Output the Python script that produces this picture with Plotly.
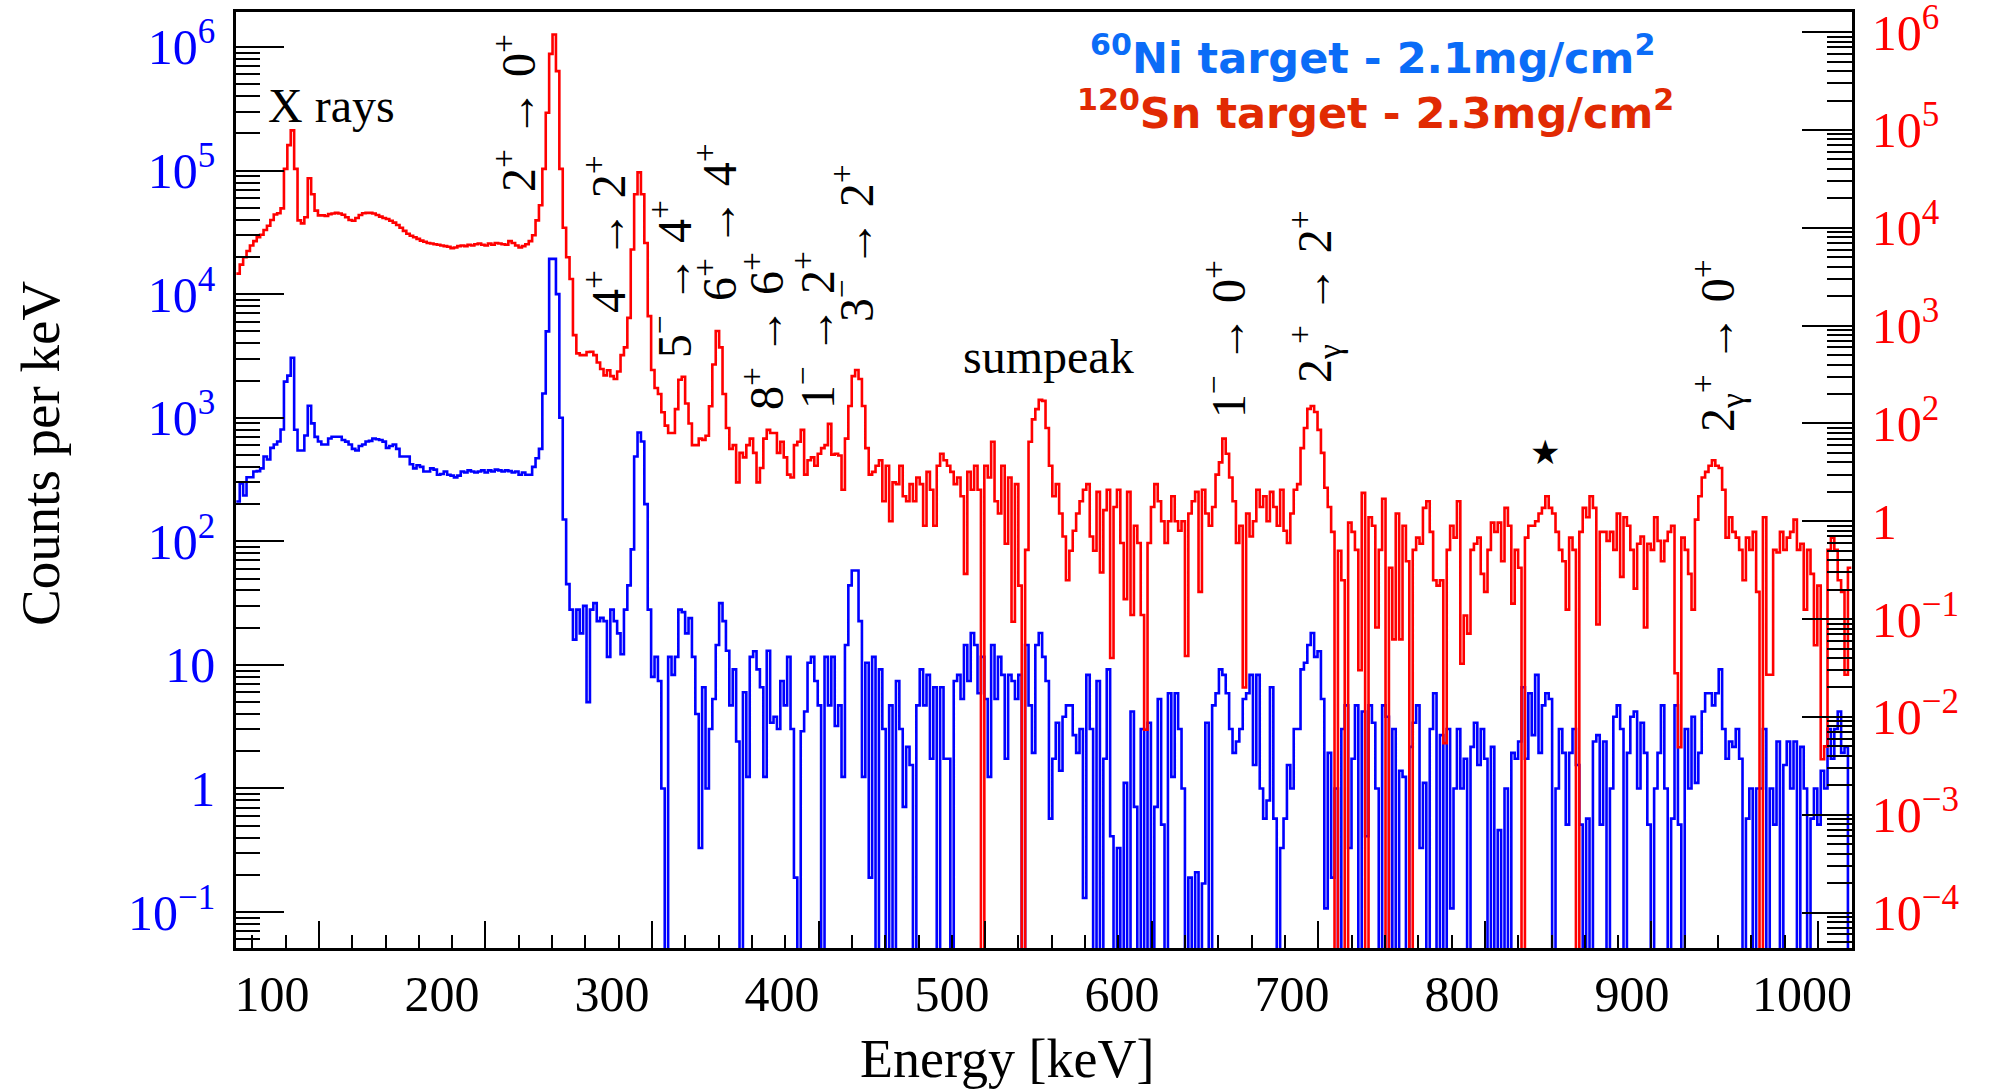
import numpy as np
import plotly.graph_objects as go

# ---------------- data (2 keV bins, first bin starts at 79 keV) ----------------
BIN_START_KEV = 79
BIN_WIDTH_KEV = 2

# 60Ni target spectrum (blue, left axis), counts per keV
ni60_080_238 = [210, 294, 235, 330, 330, 367, 370, 389, 486, 459,
                570, 607, 642, 802, 1960, 2190, 3060, 800, 543, 543,
                718, 1250, 900, 700, 642, 607, 607, 678, 702, 702,
                702, 660, 640, 607, 560, 543, 590, 607, 642, 650,
                678, 670, 660, 640, 570, 590, 607, 560, 486, 486,
                486, 420, 389, 412, 400, 367, 367, 389, 380, 346,
                350, 367, 346, 340, 329, 340, 367, 360, 375, 367,
                360, 367, 375, 360, 375, 367, 380, 375, 367, 375]
ni60_240_394 = [370, 360, 367, 346, 360, 346, 346, 400, 470, 560,
                1570, 5000, 19300, 19300, 10000, 1000, 150, 45, 28, 16,
                28, 18, 30, 5, 28, 31.6, 22.6, 24, 22.6, 11.6,
                28, 22.6, 18, 12.2, 28, 44, 86, 486, 759, 642,
                200, 28, 8, 11.6, 7.4, 1.0, 0, 11.6, 8.3, 11.6,
                28, 26.7, 18, 23.9, 11.6, 4, 0.33, 6.6, 1.0, 3.03,
                5.3, 14.5, 31.6, 22.6, 13, 4.7, 9.2, 2.4, 0, 6,
                1.24, 11.6, 12.9, 9.2, 6.6, 1.24, 13, 3.4]
ni60_396_548 = [3.8, 3.03, 7.4, 4.7, 11.6, 3.03, 0.19, 0, 2.9, 4.2,
                10.4, 11.6, 7.4, 4.7, 0, 11.6, 4.7, 11.6, 3.2, 4.7,
                1.24, 14.5, 44, 58, 58, 22.6, 1.24, 10.4, 0.19, 11.6,
                0, 9.2, 3.03, 0, 4.7, 0, 7.4, 3.03, 0.71, 2.17,
                1.55, 0, 4.7, 9.2, 4.7, 8.3, 1.74, 6.6, 0, 6.6,
                1.74, 1.74, 0, 7.4, 8.3, 5.3, 14.5, 7.4, 18.1, 14.5,
                5.9, 11.6, 5.3, 1.24, 14.5, 5.3, 11.6, 8.3, 1.74, 8.3,
                7.4, 5.3, 8.3, 0, 14.5, 4.7, 1.94]
ni60_550_704 = [14.5, 18.1, 11.6, 7.4, 0.57, 1.74, 3.4, 1.39, 3.8, 4.7,
                4.7, 2.7, 1.94, 3.03, 0.13, 8.3, 3.03, 0, 7.4, 0,
                1.74, 9.2, 0.41, 0, 0.33, 0, 1.11, 0, 4.2, 0.71,
                0, 3.03, 0, 3.4, 0, 0.71, 5.3, 0.51, 0, 5.9,
                1.24, 5.9, 3.03, 1.0, 0, 0.19, 0, 0.21, 0, 0.17,
                3.4, 0, 4.7, 5.9, 9.2, 8.3, 5.9, 3.03, 1.94, 2.4,
                3.03, 5.3, 5.9, 8.3, 1.55, 8.3, 1.0, 0.57, 0.8, 6.6,
                0.57, 0, 0.33, 0.57, 1.55, 1.0, 3.03, 3.03]
ni60_706_860 = [9.2, 10.4, 14.5, 18.1, 11.6, 12.9, 5.3, 0.107, 1.94, 0.19,
                1.0, 0, 3.03, 4.7, 0.33, 1.74, 4.7, 0, 4.2, 0.41,
                4.7, 3.4, 1.0, 0, 4.7, 3.8, 0, 3.03, 0, 1.39,
                1.24, 0, 2.17, 3.4, 4.7, 0.33, 1.11, 0, 3.03, 5.9,
                0, 2.7, 0, 3.03, 0.107, 1.0, 3.03, 1.0, 1.74, 0,
                2.17, 3.4, 1.55, 3.03, 1.74, 0, 2.17, 0, 0.46, 0,
                1.0, 0, 1.94, 1.74, 2.4, 6.6, 1.74, 5.9, 2.7, 8.3,
                1.94, 4.7, 5.9, 5.3, 0, 1.0, 3.03, 1.94]
ni60_862_1028 = [0.51, 1.94, 3.03, 1.55, 0.51, 0, 0.57, 0, 2.4, 2.7,
                 0.51, 2.4, 0, 1.0, 3.8, 4.7, 3.03, 0, 1.94, 3.8,
                 4.2, 1.0, 3.4, 1.94, 0.51, 0, 1.0, 1.94, 4.7, 1.0,
                 0, 0.57, 4.7, 0.51, 0, 3.03, 1.0, 3.8, 1.11, 1.94,
                 4.2, 5.9, 5.9, 4.7, 5.9, 9.2, 3.03, 1.74, 2.4, 2.17,
                 3.03, 1.74, 0, 0.57, 1.0, 0, 1.0, 1.0, 3.03, 0,
                 1.0, 0.51, 2.4, 0, 1.55, 2.4, 1.0, 2.4, 0, 2.17,
                 1.0, 0, 0.57, 1.0, 0.51, 1.39, 1.0, 3.03, 1.74, 3.03,
                 4.2, 1.94, 2.17, 0]

# 120Sn target spectrum (red, right axis), counts per keV
sn120_080_238 = [3400, 4200, 5000, 5800, 6600, 7300, 8000, 8500, 9500, 10500,
                 12000, 13700, 14100, 15800, 40000, 70000, 99000, 40000, 11900, 11100,
                 12800, 32100, 22000, 15000, 13400, 13400, 13200, 13800, 14000, 14200,
                 14000, 13600, 12800, 12000, 11800, 12600, 13500, 14100, 14200, 14200,
                 14000, 13500, 13000, 12600, 12300, 11800, 11300, 10700, 10000, 9300,
                 8700, 8300, 8000, 7700, 7400, 7200, 7000, 6900, 6800, 6700,
                 6600, 6500, 6400, 6200, 6300, 6500, 6600, 6500, 6700, 6600,
                 6800, 6900, 6700, 6600, 6900, 6700, 7000, 6900, 6800, 6700]
sn120_240_394 = [7300, 7000, 6600, 6300, 6500, 6800, 7300, 8400, 11900, 17000,
                 40000, 150000, 600000, 946000, 400000, 40000, 10000, 5000, 3000, 800,
                 520, 500, 500, 537, 540, 500, 420, 360, 310, 350,
                 305, 285, 340, 500, 600, 1200, 6000, 22000, 36900, 22000,
                 7000, 1250, 352, 230, 200, 130, 95, 80, 80, 140,
                 280, 300, 160, 100, 60, 60, 70, 68, 75, 150,
                 400, 880, 600, 200, 90, 55, 60, 25, 50, 45,
                 60, 70, 50, 25, 35, 70, 86, 80]
sn120_396_548 = [80, 50, 65, 45, 30, 28, 60, 65, 86, 30,
                 42, 45, 37, 49, 56, 60, 99, 48, 49, 47,
                 21, 70, 151, 305, 352, 285, 151, 56, 30, 32,
                 37, 42, 16, 37, 10, 25, 24, 37, 18, 16,
                 24, 16, 28, 24, 9, 32, 21, 9, 37, 49,
                 42, 37, 32, 24, 28, 18, 2.9, 32, 21, 37,
                 21, 0, 37, 28, 65, 16, 12, 37, 5.9, 28,
                 0.94, 24, 2.2, 0, 5.1, 65, 110]
sn120_550_704 = [140, 174, 170, 90, 37, 18, 24, 12, 7, 2.5,
                 5, 8, 12, 16, 21, 24, 7, 5, 20, 3,
                 13, 21, 0.4, 14, 21, 6, 1.6, 20, 1.1, 9,
                 6, 1.1, 0.074, 6, 14, 24, 16, 10, 6, 10,
                 18, 10, 8, 10, 0.42, 12, 16, 20, 1.9, 21,
                 12, 9, 14, 30, 40, 70, 49, 28, 16, 6,
                 9, 0.2, 12, 7, 10, 21, 14, 18, 10, 20,
                 14, 9, 21, 8, 6, 12, 21, 24]
sn120_706_860 = [56, 90, 141, 151, 131, 86, 50, 22, 14, 7.8,
                 0, 5, 2.5, 0, 9.7, 7.8, 5.1, 0.3, 19.5, 0,
                 11, 9, 0.82, 5.1, 17, 0, 3.35, 0.62, 12, 0.62,
                 9, 3.9, 0, 5.1, 6.8, 5.9, 13.7, 16, 7.8, 2.5,
                 2.2, 2.5, 0.054, 5.1, 9, 6.8, 16, 0.35, 1.09, 0.71,
                 5.1, 5.9, 6.8, 2.9, 1.9, 5.1, 9.7, 7.8, 9.7, 3.9,
                 13.7, 9, 1.44, 5.1, 3.35, 0, 6.8, 9, 9, 10,
                 12, 13.7, 18, 13.7, 12, 7.8, 5.1, 3.9]
sn120_862_1028 = [1.25, 6.8, 5.1, 0, 7.8, 13.7, 11, 18, 13.7, 0.88,
                  7.8, 7.8, 6.3, 7.8, 5.1, 12, 2.7, 11, 9, 5.1,
                  2.05, 5.9, 7, 0.82, 5.9, 5.1, 11, 6.3, 3.9, 6.3,
                  7.8, 9, 0.28, 0.049, 6.8, 5.1, 2.9, 1.25, 10.4, 18,
                  28, 32, 37, 42, 37, 35, 21, 6.8, 11, 7.8,
                  6.8, 5.1, 2.5, 6.8, 5.1, 7.8, 1.9, 0, 11, 0.27,
                  0.27, 5.1, 4.8, 7.8, 5.1, 6.8, 7.8, 10.4, 5.1, 5.9,
                  1.25, 5.1, 2.9, 0.54, 2.2, 0.037, 0.05, 5.1, 6.8, 5.1,
                  2.5, 1.9, 0.27, 3.35]

ni60_counts = (ni60_080_238 + ni60_240_394 + ni60_396_548 +
               ni60_550_704 + ni60_706_860 + ni60_862_1028)
sn120_counts = (sn120_080_238 + sn120_240_394 + sn120_396_548 +
                sn120_550_704 + sn120_706_860 + sn120_862_1028)

x_tick_values = [100, 200, 300, 400, 500, 600, 700, 800, 900, 1000]
left_tick_values = [1e-1, 1, 10, 1e2, 1e3, 1e4, 1e5, 1e6]
left_tick_text = ["10<sup>\u22121</sup>", "1", "10", "10<sup>2</sup>", "10<sup>3</sup>",
                  "10<sup>4</sup>", "10<sup>5</sup>", "10<sup>6</sup>"]
right_tick_values = [1e6, 1e5, 1e4, 1e3, 1e2, 1e1, 1e0, 1e-1, 1e-2, 1e-3]
right_tick_text = ["10<sup>6</sup>", "10<sup>5</sup>", "10<sup>4</sup>", "10<sup>3</sup>",
                   "10<sup>2</sup>", "1", "10<sup>\u22121</sup>", "10<sup>\u22122</sup>",
                   "10<sup>\u22123</sup>", "10<sup>\u22124</sup>"]

# ---------------- geometry / style ----------------
W, H = 2000, 1089
L, R, T, B = 236, 1852, 12, 948
SERIF = "Liberation Serif"


def step_xy(counts):
    n = len(counts)
    edges = BIN_START_KEV + BIN_WIDTH_KEV * np.arange(n + 1)
    y = np.asarray(counts, dtype=float)
    y = np.where(y > 0, y, 1e-9)  # empty bins drop below the frame
    return edges, np.append(y, y[-1])


fig = go.Figure()
xb, yb = step_xy(ni60_counts)
fig.add_trace(go.Scatter(x=xb, y=yb, mode="lines", line=dict(color="#0000ff", width=2.6, shape="hv"),
                         name="60Ni", xaxis="x", yaxis="y", showlegend=False, hoverinfo="skip"))
xr, yr = step_xy(sn120_counts)
fig.add_trace(go.Scatter(x=xr, y=yr, mode="lines", line=dict(color="#ff0000", width=2.6, shape="hv"),
                         name="120Sn", xaxis="x", yaxis="y2", showlegend=False, hoverinfo="skip"))
# carrier for the tick-mark axis along the bottom
fig.add_trace(go.Scatter(x=[], y=[], xaxis="x2", yaxis="y", showlegend=False, hoverinfo="skip"))

left_minor = [k * 10.0 ** d for d in range(-2, 7) for k in range(2, 10)]
right_minor = [k * 10.0 ** d for d in range(-4, 7) for k in range(2, 10)]

fig.update_layout(
    template="none",
    width=W, height=H,
    margin=dict(l=L, r=W - R, t=T, b=H - B, pad=0, autoexpand=False),
    paper_bgcolor="white", plot_bgcolor="white",
    font=dict(family=SERIF, size=50, color="black"),
    showlegend=False,
    xaxis=dict(range=[78.8, 1029.4], tickmode="array", tickvals=x_tick_values,
               ticks="", showgrid=False, zeroline=False, automargin=False,
               showline=True, linewidth=2.5, linecolor="black", mirror=True,
               ticklabeloverflow="allow",
               tickfont=dict(family=SERIF, size=50, color="black"), ticklabelstandoff=0),
    xaxis2=dict(overlaying="x", anchor="y", side="bottom", range=[50.23, 1020.4],
                tickmode="linear", tick0=0, dtick=100, ticks="inside", ticklen=27,
                tickwidth=2, tickcolor="black", showticklabels=False, showgrid=False,
                zeroline=False, showline=False, automargin=False,
                minor=dict(ticks="inside", ticklen=13, tickwidth=2, tickcolor="black",
                           dtick=20, tick0=0, showgrid=False)),
    yaxis=dict(type="log", range=[-1.291, 6.283], tickmode="array", tickvals=left_tick_values,
               ticktext=left_tick_text, ticks="inside", ticklen=48, tickwidth=2, tickcolor="black",
               showgrid=False, zeroline=False, showline=True, linewidth=2.5, linecolor="black",
               automargin=False, ticklabeloverflow="allow",
               tickfont=dict(family=SERIF, size=50, color="#0000ff"), ticklabelstandoff=8,
               minor=dict(tickmode="array", tickvals=left_minor, ticks="inside", ticklen=24,
                          tickwidth=2, tickcolor="black", showgrid=False)),
    yaxis2=dict(type="log", range=[-3.362, 6.206], overlaying="y", side="right", anchor="x",
                tickmode="array", tickvals=right_tick_values, ticktext=right_tick_text,
                ticks="inside", ticklen=50, tickwidth=2, tickcolor="black",
                showgrid=False, zeroline=False, showline=True, linewidth=2.5, linecolor="black",
                automargin=False, ticklabeloverflow="allow",
                tickfont=dict(family=SERIF, size=50, color="#ff0000"), ticklabelstandoff=7,
                minor=dict(tickmode="array", tickvals=right_minor, ticks="inside", ticklen=25,
                           tickwidth=2, tickcolor="black", showgrid=False)),
)


def py(pix):
    return (B - pix) / (B - T)


def px(pix):
    return (pix - L) / (R - L)


ann = []
# axis titles
ann.append(dict(text="Energy [keV]", xref="paper", yref="paper", x=px(1007), y=py(1059),
                xanchor="center", yanchor="middle", showarrow=False,
                font=dict(family=SERIF, size=54, color="black")))
ann.append(dict(text="Counts per keV", xref="paper", yref="paper", x=px(40), y=py(453),
                xanchor="center", yanchor="middle", showarrow=False, textangle=-90,
                font=dict(family=SERIF, size=55, color="black")))

# peak labels (rotated)
P = "<sup>+</sup>"
M = "<sup>\u2212</sup>"
G = "<sub>\u03b3</sub>"
peak_labels = [
    ("2" + P + " \u2192 0" + P, 242.9, 113),
    ("4" + P + " \u2192 2" + P, 295.9, 234),
    ("5" + M + " \u2192 4" + P, 334.7, 279),
    ("6" + P + " \u2192 4" + P, 361.2, 222),
    ("8" + P + " \u2192 6" + P, 388.8, 331),
    ("1" + M + " \u2192 2" + P, 418.8, 330),
    ("3" + M + " \u2192 2" + P, 441.8, 243),
    ("1" + M + " \u2192 0" + P, 660.6, 339),
    ("2" + G + P + " \u2192 2" + P, 712.9, 296),
    ("2" + G + P + " \u2192 0" + P, 950.6, 346),
]
for txt, e, ypix in peak_labels:
    ann.append(dict(text=txt, xref="x", yref="paper", x=e, y=py(ypix), xanchor="center",
                    yanchor="middle", showarrow=False, textangle=-90,
                    font=dict(family=SERIF, size=48, color="black")))

ann.append(dict(text="X rays", xref="x", yref="paper", x=134.7, y=py(106), xanchor="center",
                yanchor="middle", showarrow=False, font=dict(family=SERIF, size=48, color="black")))
ann.append(dict(text="sumpeak", xref="x", yref="paper", x=556.5, y=py(356), xanchor="center",
                yanchor="middle", showarrow=False, font=dict(family=SERIF, size=48, color="black")))
ann.append(dict(text="\u2605", xref="x", yref="paper", x=848.8, y=py(452), xanchor="center",
                yanchor="middle", showarrow=False, font=dict(family="DejaVu Sans", size=34, color="black")))

# target legend
ann.append(dict(text="<b><sup>60</sup>Ni target - 2.1mg/cm<sup>2</sup></b>", xref="paper", yref="paper",
                x=px(1372), y=py(55), xanchor="center", yanchor="middle", showarrow=False,
                font=dict(family="DejaVu Sans", size=43, color="#0b6cf7")))
ann.append(dict(text="<b><sup>120</sup>Sn target - 2.3mg/cm<sup>2</sup></b>", xref="paper", yref="paper",
                x=px(1375), y=py(110), xanchor="center", yanchor="middle", showarrow=False,
                font=dict(family="DejaVu Sans", size=43, color="#e12a03")))

fig.update_layout(annotations=ann)

fig.write_html("out.html", config={"displayModeBar": False})
